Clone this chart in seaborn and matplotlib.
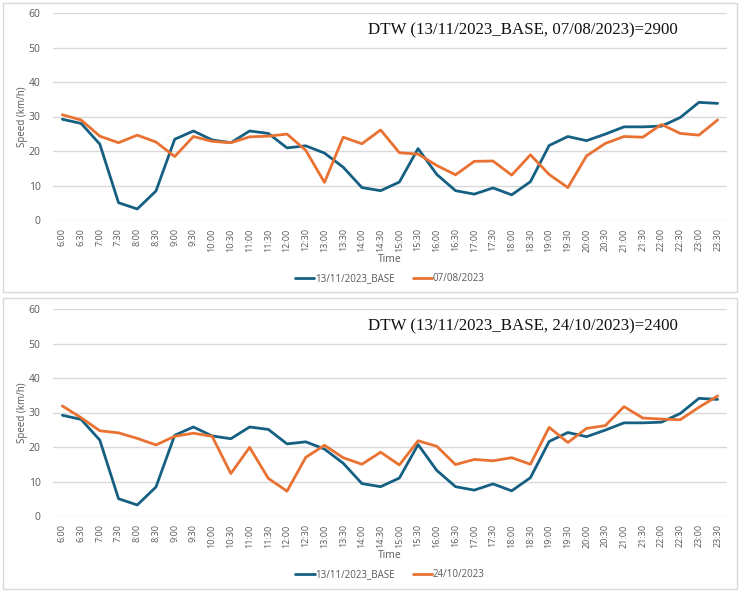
import matplotlib
matplotlib.use("Agg")
import matplotlib.pyplot as plt
import seaborn as sns
import pandas as pd
from matplotlib.patches import Rectangle

# ---------------------------------------------------------------------------
# Data (speed in km/h)
# ---------------------------------------------------------------------------
times = ["6:00", "6:30", "7:00", "7:30", "8:00", "8:30", "9:00", "9:30",
         "10:00", "10:30", "11:00", "11:30", "12:00", "12:30", "13:00", "13:30",
         "14:00", "14:30", "15:00", "15:30", "16:00", "16:30", "17:00", "17:30",
         "18:00", "18:30", "19:00", "19:30", "20:00", "20:30", "21:00", "21:30",
         "22:00", "22:30", "23:00", "23:30"]

base_label = "13/11/2023_BASE"
base_speed = [29.2, 28.0, 22.0, 5.0, 3.2, 8.4, 23.4, 25.8,
              23.2, 22.4, 25.8, 25.1, 20.9, 21.5, 19.4, 15.3,
              9.4, 8.5, 11.0, 20.7, 13.2, 8.5, 7.5, 9.3,
              7.3, 11.1, 21.6, 24.2, 23.0, 24.9, 27.0, 27.0,
              27.2, 29.7, 34.1, 33.8]

aug_label = "07/08/2023"
aug_speed = [30.5, 29.0, 24.3, 22.4, 24.6, 22.6, 18.4, 24.2,
             22.8, 22.4, 24.1, 24.3, 24.9, 20.2, 10.9, 24.0,
             22.1, 26.1, 19.5, 19.1, 15.8, 13.1, 17.0, 17.1,
             13.0, 18.9, 13.2, 9.4, 18.6, 22.2, 24.2, 24.0,
             27.7, 25.1, 24.6, 29.0]

oct_label = "24/10/2023"
oct_speed = [31.9, 28.5, 24.7, 24.1, 22.5, 20.6, 23.1, 24.0,
             23.1, 12.3, 19.9, 10.9, 7.2, 17.0, 20.5, 16.9,
             15.0, 18.5, 14.8, 21.8, 20.2, 14.9, 16.4, 16.0,
             16.9, 15.0, 25.7, 21.3, 25.4, 26.2, 31.7, 28.4,
             28.1, 27.9, 31.5, 34.8]

dtw_values = [2900, 2400]

# ---------------------------------------------------------------------------
# Style
# ---------------------------------------------------------------------------
sns.set_style("white")
plt.rcParams['font.family'] = ['Open Sans', 'DejaVu Sans']

BLUE = "#156082"
ORANGE = "#E97132"
GRID = "#D9D9D9"
TEXT = "#595959"

W, H = 740, 591
fig = plt.figure(figsize=(W / 100, H / 100), dpi=100)


def px_axes(left, right, top, bottom):
    return fig.add_axes([left / W, 1 - bottom / H, (right - left) / W, (bottom - top) / H])


def draw_panel(ax, other_speed, other_label, dtw):
    df = pd.DataFrame({
        "Time": times * 2,
        "Speed": base_speed + other_speed,
        "Series": [base_label] * len(times) + [other_label] * len(times),
    })
    sns.lineplot(data=df, x="Time", y="Speed", hue="Series", sort=False,
                 palette=[BLUE, ORANGE], linewidth=2, ax=ax)

    ax.set_xlim(-0.5, len(times) - 0.5)
    ax.set_ylim(0, 60)
    ax.set_yticks(range(0, 61, 10))
    ax.grid(axis="y", color=GRID, linewidth=1)
    ax.set_axisbelow(True)
    for s in ax.spines.values():
        s.set_visible(False)
    ax.tick_params(axis="y", length=0, labelsize=7.5, labelcolor=TEXT, pad=9)
    ax.tick_params(axis="x", length=0, labelsize=6.5, labelcolor=TEXT, pad=6)
    plt.setp(ax.get_xticklabels(), rotation=90, va="top", ha="center")

    ax.set_ylabel("Speed (km/h)", fontsize=7, color=TEXT)
    ax.yaxis.set_label_coords(-0.037, 0.5)
    ax.set_xlabel("Time", fontsize=7.5, color=TEXT)
    ax.xaxis.set_label_coords(0.5, -0.165)

    sns.move_legend(ax, "center", bbox_to_anchor=(0.5, -0.285), ncol=2,
                    frameon=False, title=None, fontsize=7,
                    handlelength=2.0, handletextpad=0.1, columnspacing=1.8)
    for t in ax.get_legend().get_texts():
        t.set_color(TEXT)

    ax.text(0.468, 0.915, f"DTW ({base_label}, {other_label})={dtw}",
            transform=ax.transAxes, ha="left", va="center",
            fontsize=12.2, family=["Liberation Serif", "DejaVu Serif"], color="#111111",
            bbox=dict(facecolor="white", edgecolor="none", pad=3))


# panel frames
fig.patches.append(Rectangle((3 / W, 1 - 292 / H), 734 / W, 289 / H, transform=fig.transFigure,
                             facecolor="none", edgecolor=GRID, linewidth=1))
fig.patches.append(Rectangle((3 / W, 1 - 589 / H), 734 / W, 291 / H, transform=fig.transFigure,
                             facecolor="none", edgecolor=GRID, linewidth=1))

ax_top = px_axes(53, 727, 13, 220)
draw_panel(ax_top, aug_speed, aug_label, dtw_values[0])

ax_bot = px_axes(53, 727, 309, 516)
draw_panel(ax_bot, oct_speed, oct_label, dtw_values[1])

fig.savefig("out.png", dpi=100)
